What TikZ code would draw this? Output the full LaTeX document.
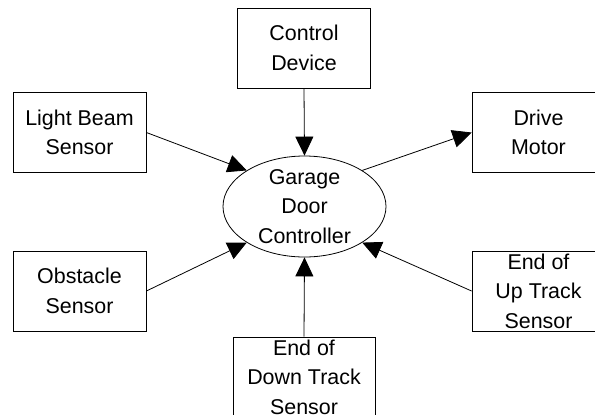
\documentclass[tikz,border=0pt]{standalone}
\usepackage{fontspec}
\setmainfont{Liberation Sans}
\usetikzlibrary{arrows.meta,shapes.geometric}

\begin{document}
\begin{tikzpicture}[x=1bp,y=-1bp,
	blockbox/.style={draw, line width=0.8bp, minimum width=133bp, minimum height=80bp, align=center, inner sep=0pt},
	ctrlshape/.style={ellipse, draw, line width=0.8bp, minimum width=163bp, minimum height=101bp, inner sep=0pt, inner ysep=-5bp, align=center},
	flow/.style={line width=0.8bp, -{Triangle[length=19bp,width=18bp]}},
	font=\fontsize{21.5}{29.5}\selectfont]
\useasboundingbox (0,0) rectangle (595,414);
\clip (0,0) rectangle (595,414);

\node[ctrlshape] (ctrl) at (304.5,206.5) {Garage\\Door\\Controller};

\node[blockbox] (control) at (304,48) {Control\\Device};
\node[blockbox] (light) at (79.5,132.5) {Light Beam\\Sensor};
\node[blockbox] (drive) at (538.5,132.5) {Drive\\Motor};
\node[blockbox] (obstacle) at (79.5,291) {Obstacle\\Sensor};
\node[blockbox] (uptrack) at (538.5,291) {End of\\Up Track\\Sensor};
\node[blockbox, minimum width=142bp] (downtrack) at (304,377) {End of\\Down Track\\Sensor};

\draw[flow] (control.south) -- (ctrl.north);
\draw[flow] (light.east) -- (ctrl.148);
\draw[flow] (ctrl.32) -- (drive.west);
\draw[flow] (obstacle.east) -- (ctrl.212);
\draw[flow] (uptrack.west) -- (ctrl.-32);
\draw[flow] (downtrack.north) -- (ctrl.south);
\end{tikzpicture}
\end{document}
